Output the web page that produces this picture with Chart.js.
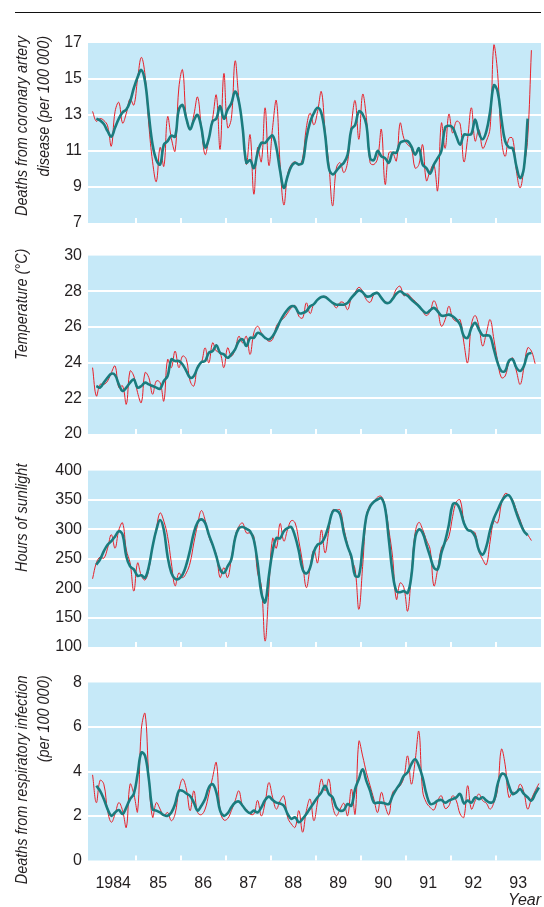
<!DOCTYPE html>
<html>
<head>
<meta charset="utf-8">
<script src="https://cdn.jsdelivr.net/npm/chart.js@4.4.1/dist/chart.umd.min.js"></script>
<style>
  body { margin: 0; background: #fff; }
  #wrap { position: relative; width: 544px; height: 907px; overflow: hidden; }
  .rule { position: absolute; left: 15px; top: 12px; width: 526px; border-top: 1.5px solid #111; }
  canvas { position: absolute; left: 0; }
</style>
</head>
<body>
<div id="wrap">
  <div class="rule"></div>
  <canvas id="c1" width="544" height="225" style="top:15px"></canvas>
  <canvas id="c2" width="544" height="215" style="top:240px"></canvas>
  <canvas id="c3" width="544" height="210" style="top:455px"></canvas>
  <canvas id="c4" width="544" height="242" style="top:665px"></canvas>
</div>
<script>
// monthly series from Jan 1984; smoothed series start one month in
const startYear = 1984;
const yearLabels = ["1984", "85", "86", "87", "88", "89", "90", "91", "92", "93"];
const yearTicks = [1985, 1986, 1987, 1988, 1989, 1990, 1991, 1992, 1993];

const cadRaw = [13.2, 12.65, 12.8, 12.7, 12.4, 11.27, 13.2, 13.7, 12.55, 13.1, 13.9, 13.55,
  15.0, 16.2, 15.2, 12.45, 10.4, 9.3, 11.2, 10.15, 12.9, 11.7, 11.0, 14.5,
  15.5, 12.8, 12.2, 13.0, 14.0, 12.3, 10.8, 11.7, 12.8, 14.1, 11.1, 15.3,
  12.3, 12.8, 16.0, 13.9, 12.3, 10.25, 11.9, 8.6, 11.2, 10.4, 13.4, 10.2,
  12.3, 13.8, 10.25, 8.0, 9.7, 10.25, 10.4, 10.2, 10.6, 12.3, 13.1, 12.45,
  13.2, 14.3, 12.1, 10.25, 7.95, 10.05, 10.35, 9.8, 10.4, 12.45, 13.8, 11.65,
  14.15, 12.85, 10.35, 10.25, 10.6, 12.2, 9.15, 10.9, 10.9, 10.45, 12.55, 11.7,
  11.35, 11.15, 10.05, 10.25, 11.35, 9.35, 9.9, 10.25, 8.8, 12.55, 11.15, 13.05,
  12.0, 12.65, 12.5, 10.4, 11.7, 13.4, 11.55, 12.2, 11.15, 11.55, 12.3, 16.9,
  15.3, 11.7, 10.7, 11.7, 11.7, 9.9, 8.95, 10.05, 11.7, 16.6];
const cadSmooth = [12.8, 12.7, 12.5, 12.1, 11.8, 12.3, 12.8, 13.15, 13.3, 13.75, 14.5,
  15.1, 15.5, 14.85, 13.0, 11.35, 10.5, 10.25, 11.35, 11.55, 11.85, 11.8, 13.3,
  13.55, 12.8, 12.2, 12.7, 13.0, 12.3, 11.2, 11.7, 12.65, 12.8, 13.5, 12.8,
  13.3, 13.65, 14.3, 13.75, 12.3, 10.35, 10.5, 10.05, 10.9, 11.45, 11.45, 11.7,
  11.85, 11.2, 9.9, 8.95, 9.6, 10.15, 10.35, 10.25, 10.35, 11.7, 12.6, 13.1,
  13.4, 13.1, 11.9, 10.05, 9.7, 9.9, 10.15, 10.35, 10.8, 12.2, 12.45, 13.2,
  13.05, 12.45, 10.6, 10.5, 11.0, 10.7, 10.6, 10.35, 10.9, 10.9, 11.45, 11.55,
  11.55, 11.25, 10.8, 11.15, 10.25, 10.05, 9.75, 10.25, 10.6, 11.0, 12.3, 12.4,
  12.3, 11.8, 11.35, 11.9, 11.9, 11.95, 12.75, 12.0, 11.65, 12.1, 13.2, 14.65,
  14.3, 12.8, 11.55, 11.2, 11.15, 10.15, 9.5, 10.05, 12.8];

const tempRaw = [23.72, 22.13, 22.78, 22.78, 22.97, 23.44, 23.81, 22.6, 22.7, 21.67, 23.53, 23.25,
  22.32, 21.76, 23.44, 23.16, 22.23, 22.97, 22.88, 21.85, 24.18, 23.72, 24.65, 23.72,
  24.37, 24.18, 22.97, 22.69, 23.81, 23.99, 24.83, 23.99, 25.11, 24.65, 24.55, 23.72,
  24.83, 24.37, 24.74, 25.48, 25.11, 25.48, 24.46, 25.67, 26.04, 25.67, 25.39, 25.2,
  25.3, 26.04, 26.32, 26.5, 26.78, 27.07, 27.2, 26.6, 26.5, 27.35, 26.75, 27.3,
  27.49, 27.66, 27.72, 27.57, 27.35, 27.07, 27.38, 27.35, 26.97, 27.63, 27.94, 28.22,
  28.0, 27.53, 27.38, 27.81, 27.94, 27.63, 27.44, 27.35, 27.63, 28.13, 28.28, 27.75,
  27.86, 27.63, 27.44, 27.2, 26.88, 26.64, 26.88, 27.47, 26.97, 26.04, 26.41, 27.16,
  26.5, 26.32, 26.41, 25.11, 23.99, 26.13, 26.64, 26.04, 24.93, 25.67, 26.41, 25.3,
  24.09, 23.16, 23.25, 23.99, 24.27, 23.53, 22.78, 23.72, 24.83, 24.65, 23.94];
const tempSmooth = [22.69, 22.6, 22.88, 23.16, 23.38, 23.3, 22.78, 22.41, 22.6, 22.88, 23.06,
  22.6, 22.69, 22.88, 22.78, 22.69, 22.6, 22.54, 22.97, 23.25, 24.18, 24.09, 24.09,
  23.9, 23.53, 23.16, 23.25, 23.72, 24.03, 24.09, 24.55, 24.65, 24.97, 24.55, 24.46,
  24.27, 24.46, 24.74, 25.2, 25.3, 24.93, 25.39, 25.39, 25.67, 25.58, 25.39, 25.3,
  25.48, 25.85, 26.32, 26.69, 26.97, 27.16, 27.12, 26.78, 26.78, 26.88, 27.16, 27.28,
  27.53, 27.68, 27.68, 27.53, 27.35, 27.25, 27.25, 27.25, 27.35, 27.63, 27.86, 28.05,
  27.94, 27.72, 27.72, 27.86, 27.9, 27.63, 27.38, 27.35, 27.57, 27.86, 28.0, 27.86,
  27.75, 27.53, 27.35, 27.16, 26.93, 26.78, 26.93, 27.07, 26.88, 26.64, 26.64, 26.69,
  26.6, 26.41, 26.13, 25.48, 25.39, 25.95, 26.23, 25.86, 25.53, 25.53, 25.48, 24.74,
  23.99, 23.53, 23.53, 24.09, 24.18, 23.72, 23.53, 23.81, 24.46, 24.55];

const sunRaw = [216, 243, 253, 251, 268, 291, 268, 299, 311, 265, 243, 195,
  243, 221, 214, 232, 271, 302, 328, 314, 288, 243, 204, 226,
  218, 226, 243, 277, 308, 332, 316, 288, 272, 257, 218, 235,
  218, 251, 288, 305, 311, 294, 294, 288, 226, 204, 110, 198,
  285, 268, 310, 280, 300, 315, 311, 280, 243, 201, 235, 265,
  243, 299, 260, 299, 333, 333, 333, 302, 274, 249, 232, 164,
  237, 322, 342, 347, 355, 356, 339, 299, 252, 181, 209, 201,
  161, 226, 294, 312, 300, 282, 266, 204, 232, 268, 277, 288,
  322, 347, 350, 314, 299, 297, 294, 263, 249, 240, 280, 314,
  311, 344, 361, 358, 350, 333, 316, 299, 291, 281];
const sunSmooth = [240, 249, 263, 274, 280, 288, 297, 291, 254, 237, 232,
  221, 222, 218, 237, 271, 299, 316, 299, 254, 226, 216, 216,
  223, 240, 265, 294, 312, 317, 311, 291, 274, 254, 232, 226,
  237, 249, 285, 302, 304, 301, 297, 282, 243, 192, 176, 221,
  263, 285, 285, 297, 302, 304, 288, 263, 232, 225, 235, 262,
  274, 277, 288, 308, 330, 332, 325, 294, 271, 254, 221, 221,
  271, 322, 339, 347, 351, 353, 336, 282, 226, 195, 193, 195,
  192, 221, 285, 300, 294, 274, 254, 235, 232, 260, 280, 308,
  342, 344, 333, 311, 299, 297, 288, 265, 257, 271, 299, 319,
  333, 347, 356, 358, 347, 328, 311, 297, 290];

const respRaw = [3.85, 2.6, 3.6, 3.43, 2.24, 1.72, 2.09, 2.6, 2.24, 1.49, 3.43, 2.99,
  2.2, 5.9, 6.6, 3.73, 1.94, 2.6, 2.31, 2.01, 2.16, 1.79, 2.09, 3.13,
  3.66, 3.21, 2.24, 3.13, 2.16, 2.06, 2.31, 2.99, 3.73, 4.4, 2.24, 1.82,
  1.88, 2.24, 2.68, 3.13, 2.46, 2.31, 2.09, 2.09, 2.7, 2.0, 2.6, 3.5,
  2.84, 2.31, 2.68, 2.9, 1.94, 1.64, 1.49, 2.24, 1.27, 2.24, 2.76, 1.79,
  2.68, 3.66, 3.13, 3.66, 2.46, 2.01, 2.31, 2.57, 2.01, 3.21, 2.09, 5.35,
  4.7, 3.96, 3.36, 2.76, 2.16, 3.06, 2.46, 2.06, 3.06, 3.21, 3.36, 3.73,
  4.7, 3.43, 4.48, 5.8, 3.13, 2.6, 2.39, 2.27, 2.69, 2.91, 2.34, 2.46,
  2.91, 2.68, 2.09, 1.94, 3.36, 2.31, 2.68, 2.99, 2.69, 2.57, 2.31, 2.6,
  3.21, 5.0, 4.3, 2.84, 3.06, 3.06, 3.43, 3.06, 2.31, 2.76, 3.13, 3.46];
const respSmooth = [3.36, 3.13, 2.76, 2.31, 2.01, 2.16, 2.27, 2.09, 2.39, 2.76, 2.99,
  3.88, 4.85, 4.7, 3.66, 2.31, 2.24, 2.16, 2.04, 2.01, 2.16, 2.54, 3.13,
  3.13, 3.01, 2.9, 2.6, 2.24, 2.46, 2.76, 3.28, 3.43, 3.06, 2.24, 2.01,
  2.12, 2.39, 2.6, 2.65, 2.46, 2.24, 2.13, 2.24, 2.16, 2.39, 2.72, 2.87,
  2.72, 2.6, 2.56, 2.46, 2.09, 1.87, 1.94, 1.72, 1.87, 2.09, 2.35, 2.6,
  2.84, 3.06, 3.36, 2.99, 2.84, 2.39, 2.24, 2.27, 2.54, 2.46, 3.21, 3.66,
  4.1, 3.58, 3.13, 2.6, 2.6, 2.6, 2.56, 2.54, 2.91, 3.21, 3.46, 3.81,
  3.96, 4.33, 4.55, 4.25, 3.73, 2.99, 2.54, 2.57, 2.69, 2.72, 2.6, 2.69,
  2.76, 2.84, 2.99, 2.57, 2.69, 2.6, 2.84, 2.76, 2.84, 2.69, 2.6, 2.69,
  3.43, 3.88, 3.85, 3.36, 2.99, 3.06, 3.21, 2.99, 2.84, 2.69, 2.99, 3.28];

const FONT = '"Liberation Sans", Arial, sans-serif';
const TEXT = "#231f20";
const PANEL = "#c6e9f8";
const RED = "#e8212a";
const TEAL = "#1a7c7e";

function toPoints(values, offset) {
    return values.map(function(v, i) {
        return {x: startYear+(i+offset+0.5)/12, y: v};
    });
}

// panel background, year tick marks and the rotated side titles
const panelDecor={
    id: "panelDecor",
    beforeDraw: function(chart) {
        const a=chart.chartArea, ctx=chart.ctx;
        ctx.save();
        ctx.fillStyle=PANEL;
        ctx.fillRect(a.left, a.top, a.right-a.left, a.bottom-a.top);
        ctx.restore();
    },
    beforeDatasetsDraw: function(chart) {
        const a=chart.chartArea, ctx=chart.ctx, xs=chart.scales.x;
        ctx.save();
        ctx.strokeStyle="#fff";
        ctx.lineWidth=2;
        yearTicks.forEach(function(yr) {
            const px=Math.round(xs.getPixelForValue(yr));
            ctx.beginPath();
            ctx.moveTo(px, a.bottom);
            ctx.lineTo(px, a.bottom-5);
            ctx.stroke();
        });
        ctx.restore();
    },
    afterDraw: function(chart, args, opts) {
        const ctx=chart.ctx, a=chart.chartArea;
        ctx.save();
        ctx.font="italic 17px "+FONT;
        ctx.fillStyle=TEXT;
        ctx.textAlign="right";
        ctx.textBaseline="middle";
        opts.lines.forEach(function(line, i) {
            ctx.save();
            ctx.translate(22+i*22, a.top-7);
            ctx.rotate(-Math.PI/2);
            ctx.scale(0.85, 1);
            ctx.fillText(line, 0, 0);
            ctx.restore();
        });
        ctx.restore();
    },
};

function makePanel(id, cfg) {
    const isBottom=!!cfg.bottom;
    return new Chart(document.getElementById(id), {
        type: "line",
        data: {
            datasets: [{
                data: toPoints(cfg.smooth, 1),
                borderColor: TEAL,
                borderWidth: 2.6,
                pointRadius: 0,
                tension: 0.4,
            }, {
                data: toPoints(cfg.raw, 0),
                borderColor: RED,
                borderWidth: 1,
                pointRadius: 0,
                tension: 0.4,
            }],
        },
        options: {
            responsive: false,
            animation: false,
            events: [],
            layout: {
                padding: {top: cfg.padTop, bottom: cfg.padBottom, left: 0, right: 3},
            },
            plugins: {
                legend: {display: false},
                tooltip: {enabled: false},
                panelDecor: {lines: cfg.title},
            },
            scales: {
                x: {
                    type: "linear",
                    min: 1983.94,
                    max: 1994.005,
                    display: isBottom,
                    grid: {display: false},
                    border: {display: false},
                    afterBuildTicks: function(scale) {
                        scale.ticks=yearLabels.map(function(l, k) {
                            return {value: startYear+0.5+k};
                        });
                    },
                    ticks: {
                        autoSkip: false,
                        maxRotation: 0,
                        padding: 5,
                        color: TEXT,
                        font: {family: FONT, size: 16},
                        callback: function(value, index) {
                            return yearLabels[index];
                        },
                    },
                    title: {
                        display: true,
                        text: "Year",
                        align: "end",
                        color: TEXT,
                        font: {family: FONT, size: 16, style: "italic"},
                        padding: {top: 0, bottom: -3},
                    },
                    afterFit: function(scale) {
                        if (isBottom) scale.height=46.5;
                    },
                },
                y: {
                    min: cfg.min,
                    max: cfg.max,
                    ticks: {
                        stepSize: cfg.step,
                        padding: 6,
                        color: TEXT,
                        font: {family: FONT, size: 16},
                    },
                    grid: {
                        lineWidth: 2,
                        drawTicks: false,
                        color: function(c) {
                            return (c.tick.value===cfg.min || c.tick.value===cfg.max) ? "rgba(0,0,0,0)" : "#fff";
                        },
                    },
                    border: {display: false},
                    afterFit: function(scale) {
                        scale.width=88;
                    },
                },
            },
        },
        plugins: [panelDecor],
    });
}

makePanel("c1", {raw: cadRaw, smooth: cadSmooth, min: 7, max: 17, step: 2, padTop: 28, padBottom: 17,
    title: ["Deaths from coronary artery", "disease (per 100 000)"]});
makePanel("c2", {raw: tempRaw, smooth: tempSmooth, min: 20, max: 30, step: 2, padTop: 15, padBottom: 21,
    title: ["Temperature (°C)"]});
makePanel("c3", {raw: sunRaw, smooth: sunSmooth, min: 100, max: 400, step: 50, padTop: 15, padBottom: 18,
    title: ["Hours of sunlight"]});
makePanel("c4", {raw: respRaw, smooth: respSmooth, min: 0, max: 8, step: 2, padTop: 17.5, padBottom: 0, bottom: true,
    title: ["Deaths from respiratory infection", "(per 100 000)"]});
</script>
</body>
</html>
